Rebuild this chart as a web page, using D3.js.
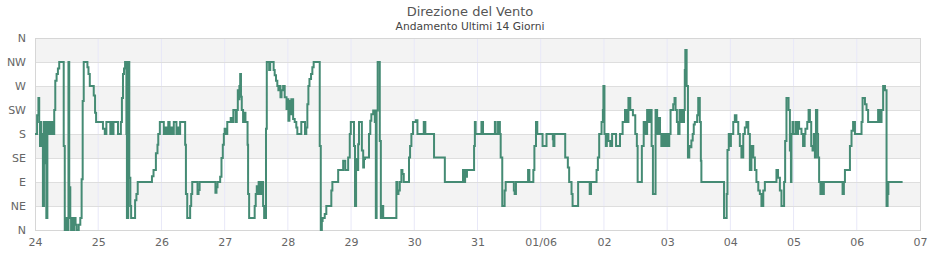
<!DOCTYPE html>
<html>
<head>
<meta charset="utf-8">
<script src="https://cdn.jsdelivr.net/npm/d3@7"></script>
<style>
  body { margin: 0; background: #fff; font-family: "DejaVu Sans", Verdana, sans-serif; }
  .axis text { fill: #666; font-size: 11px; font-family: "DejaVu Sans", sans-serif; }
</style>
</head>
<body>
<svg id="chart"></svg>
<script>
const title = 'Direzione del Vento';
const subtitle = 'Andamento Ultimi 14 Giorni';
const dirLabels = ['N', 'NE', 'E', 'SE', 'S', 'SW', 'W', 'NW', 'N'];
const dirTicks = [0, 45, 90, 135, 180, 225, 270, 315, 360];
const firstDay = Date.UTC(2024, 4, 24);
const lastDay = Date.UTC(2024, 5, 7);

// one array per day: [hour of day, direction in degrees]
const d24 = [[0,180],[0.8,215],[1.3,247.5],[1.6,202.5],[1.9,157.5],[2.2,202.5],[2.4,180],[2.7,157.5],[3.0,45],[3.4,202.5],[3.8,125],[4.0,202.5],[4.3,22.5],[4.7,202.5],[5.1,180],[5.6,202.5],[5.9,180],[6.3,202.5],[6.7,180],[7.3,225],[7.7,280],[8.2,292.5],[8.7,303],[9.2,315],[10.9,157.5],[11.3,0],[11.6,22.5],[12.0,0],[12.7,315],[13.0,80],[13.4,22.5],[13.7,0],[14.1,22.5],[14.4,0],[14.9,22.5],[15.4,10],[15.8,0],[16.6,10],[17.2,22.5],[17.7,95],[18.1,242],[18.5,315],[19.9,305],[20.3,292.5],[20.8,270],[22.3,252],[22.8,220],[23.2,202.5]];
const d25 = [[0,202.5],[1.8,190],[2.5,180],[3.1,202.5],[4.6,180],[5.0,202.5],[5.4,180],[5.8,202.5],[7.5,180],[8.6,202.5],[9.0,247.5],[9.4,292.5],[9.8,303],[10.2,315],[10.7,180],[10.9,22.5],[11.4,315],[11.8,98],[12.2,45],[12.5,22.5],[14.0,56],[14.5,67.5],[15.0,90],[20.4,101],[21.0,112.5],[21.9,144],[22.5,160],[22.8,180],[23.4,202.5]];
const d26 = [[0,202.5],[0.9,180],[1.5,192],[2.1,180],[2.6,202.5],[3.1,180],[3.6,192],[4.1,180],[4.7,202.5],[5.7,180],[6.3,192],[6.8,180],[7.1,202.5],[9.0,160],[9.3,67.5],[9.8,22.5],[10.9,45],[11.3,67.5],[11.7,90],[13.7,67.5],[14.1,75],[14.5,90],[20.5,70],[20.9,80],[21.3,90],[22.3,100],[22.8,135],[23.3,160],[23.7,180]];
const d27 = [[0,190],[0.6,180],[1.0,202.5],[2.3,210],[2.8,202.5],[3.3,225],[4.2,202.5],[4.6,225],[5.0,262],[5.3,245],[5.6,270],[5.9,292.5],[6.2,250],[6.5,225],[7.0,202.5],[7.4,220],[7.9,202.5],[8.7,160],[8.9,67.5],[9.3,22.5],[11.4,45],[11.8,67.5],[12.2,82],[12.5,67.5],[12.9,90],[13.4,67.5],[14.0,90],[14.6,45],[15.0,22.5],[15.7,190],[16.0,315],[16.9,300],[17.3,315],[18.6,300],[19.0,290],[19.5,280],[20.0,270],[20.4,262],[20.8,270],[21.2,249],[21.6,262],[22.2,270],[22.8,249],[23.5,227]];
const d28 = [[0,245],[0.2,205],[0.6,242],[1.0,217],[1.3,245],[2.0,208],[2.6,202.5],[3.2,192],[3.6,180],[5.1,202.5],[6.5,180],[7.0,192],[7.4,236],[7.8,270],[8.2,283],[8.8,292.5],[9.3,305],[9.8,315],[12.1,157.5],[12.5,0],[12.9,17],[13.2,22.5],[14.0,30],[14.6,45],[16.5,74],[16.9,90],[19.1,112.5],[21.0,130],[21.8,112.5],[22.9,136],[23.5,180],[23.9,202.5]];
const d29 = [[0,202.5],[1.1,157.5],[1.5,45],[1.9,133],[2.3,112.5],[2.7,161],[3.0,202.5],[4.1,149],[4.6,117],[4.9,133],[5.3,136],[6.8,180],[7.3,205],[7.7,217],[8.4,224],[9.0,202.5],[9.4,22.5],[9.7,224],[10.1,315],[10.9,167],[11.3,22.5],[11.6,45],[12.2,22.5],[17.2,90],[17.6,67.5],[18.0,74],[18.5,90],[19.1,112.5],[19.5,105],[20.0,90],[22.0,136],[22.4,157.5],[22.9,180],[23.5,202.5]];
const d30 = [[0,202.5],[0.6,206],[1.2,180],[3.6,202.5],[4.2,180],[7.5,136],[11.6,90],[18.5,112.5],[18.9,90],[19.3,112.5],[19.7,100],[20.0,112.5],[22.7,157.5],[23.0,202.5],[23.3,180]];
const d31 = [[0,180],[1.5,202.5],[2.1,180],[6.6,202.5],[6.9,180],[7.8,202.5],[8.5,180],[8.8,136],[9.4,45],[10.3,74],[10.7,90],[13.8,74],[14.1,67.5],[14.6,90],[19.2,112.5],[19.7,90],[21.2,112.5],[21.6,157.5],[22.2,202.5],[22.7,180]];
const d01 = [[0,180],[0.7,157.5],[2.2,180],[4.6,170],[4.8,157.5],[5.2,180],[9.3,136],[10.3,117],[10.8,90],[11.7,67.5],[12.1,45],[14.2,90],[18.6,67.5],[19.1,90],[21.2,112.5],[21.7,136],[22.2,180],[23.1,202.5],[23.6,225],[23.8,270]];
const d02 = [[0.2,180],[0.7,157.5],[1.1,180],[1.7,167],[2.4,157.5],[3.1,180],[4.6,157.5],[6.1,180],[7.1,202.5],[8.0,225],[8.7,202.5],[9.3,247.5],[10.0,225],[11.0,215],[11.9,180],[12.5,157.5],[12.8,90],[14.4,157.5],[15.1,202.5],[15.7,180],[16.4,225],[17.0,202.5],[17.7,225],[18.1,157.5],[18.6,67.5],[19.6,225],[20.2,180],[20.9,210],[21.3,180],[21.8,157.5],[22.5,180],[23.1,157.5],[23.7,180]];
const d03 = [[0,180],[0.4,157.5],[0.8,180],[1.3,225],[2.3,236],[2.8,247.5],[3.2,225],[3.7,202.5],[4.2,180],[4.7,225],[5.1,202.5],[5.6,225],[6.0,202.5],[6.4,225],[6.7,300],[6.9,337.5],[7.4,270],[7.9,136],[8.4,157.5],[8.9,155],[9.2,168],[9.7,180],[10.1,198],[10.5,202.5],[11.4,215],[11.8,247.5],[12.4,202.5],[12.8,130],[13.0,90],[21.6,22.5],[22.6,67.5],[22.9,150],[23.4,180],[23.8,157.5]];
const d04 = [[0.2,180],[1.1,202.5],[1.7,215],[2.3,202.5],[3.0,180],[3.6,157.5],[4.2,136],[4.9,180],[5.5,192],[6.1,202.5],[6.8,180],[7.4,112.5],[8.0,157.5],[8.7,136],[9.3,112.5],[9.9,90],[10.6,74],[11.2,67.5],[11.8,45],[12.5,74],[13.1,90],[17.5,112.5],[18.1,98],[18.8,74],[19.4,45],[20.0,45],[20.4,90],[20.8,167],[21.3,247.5],[22.1,225],[22.6,149],[23.0,90],[23.2,180],[23.6,202.5]];
const d05 = [[0,180],[0.9,202.5],[1.4,180],[1.7,202.5],[2.1,190],[3.0,180],[3.6,157.5],[4.2,180],[4.5,190],[5.2,202.5],[5.7,225],[6.2,202.5],[6.7,157.5],[7.2,149],[7.7,180],[8.1,136],[8.5,225],[9.0,180],[9.3,136],[9.7,90],[10.2,67.5],[10.6,90],[11.0,67.5],[11.5,90],[18.6,67.5],[19.1,90],[19.5,112.5],[21.4,157.5],[22.0,186],[22.6,202.5],[23.3,180]];
const d06 = [[0,180],[1.8,202.5],[2.2,247.5],[3.1,236],[3.7,225],[4.3,202.5],[8.1,225],[8.8,202.5],[9.4,225],[10.0,270],[10.7,262],[11.3,45],[11.7,67.5],[12.0,90],[17.4,90]];

const days = [d24, d25, d26, d27, d28, d29, d30, d31, d01, d02, d03, d04, d05, d06];

const HOUR = 3600e3;
const points = days.flatMap((arr, i) =>
  arr.map(([h, deg]) => ({ t: new Date(firstDay + (i * 24 + h) * HOUR), deg }))
);

const W = 940, H = 260;
const m = { top: 38, right: 20, bottom: 30, left: 35 };
const iW = W - m.left - m.right;
const iH = H - m.top - m.bottom;

const svg = d3.select('#chart').attr('width', W).attr('height', H);

svg.append('text')
  .attr('x', W / 2).attr('y', 16)
  .attr('text-anchor', 'middle')
  .attr('fill', '#555')
  .style('font-size', '13px')
  .text(title);

svg.append('text')
  .attr('x', W / 2).attr('y', 30)
  .attr('text-anchor', 'middle')
  .attr('fill', '#444')
  .style('font-size', '10.7px')
  .text(subtitle);

const g = svg.append('g').attr('transform', `translate(${m.left},${m.top})`);

const x = d3.scaleUtc().domain([new Date(firstDay), new Date(lastDay)]).range([0, iW]);
const y = d3.scaleLinear().domain([0, 360]).range([iH, 0]);

// alternating bands
g.selectAll('.band')
  .data(dirTicks.slice(0, -1).filter((_, i) => i % 2 === 1))
  .join('rect')
    .attr('x', 0)
    .attr('width', iW)
    .attr('y', d => y(d + 45))
    .attr('height', d => y(d) - y(d + 45))
    .attr('fill', '#f3f3f3');

// vertical day lines
g.selectAll('.vline')
  .data(x.ticks(d3.utcDay.every(1)).slice(1, -1))
  .join('line')
    .attr('x1', d => x(d)).attr('x2', d => x(d))
    .attr('y1', 0).attr('y2', iH)
    .attr('stroke', '#e8e8f8');

// horizontal grid
g.selectAll('.hline')
  .data(dirTicks)
  .join('line')
    .attr('x1', 0).attr('x2', iW)
    .attr('y1', d => y(d) + 0.5).attr('y2', d => y(d) + 0.5)
    .attr('stroke', '#dedede');

g.append('rect')
  .attr('x', 0.5).attr('y', 0.5)
  .attr('width', iW).attr('height', iH)
  .attr('fill', 'none')
  .attr('stroke', '#d6d6d6');

const fmtDay = d3.utcFormat('%d');
const fmtMonth = d3.utcFormat('%d/%m');

g.append('g')
  .attr('class', 'axis')
  .attr('transform', `translate(0,${iH})`)
  .call(
    d3.axisBottom(x)
      .ticks(d3.utcDay.every(1))
      .tickFormat(d => d.getUTCDate() === 1 ? fmtMonth(d) : fmtDay(d))
      .tickSize(0)
      .tickPadding(8)
  )
  .call(ax => ax.select('.domain').remove());

g.append('g')
  .attr('class', 'axis')
  .call(
    d3.axisLeft(y)
      .tickValues(dirTicks)
      .tickFormat((d, i) => dirLabels[i])
      .tickSize(0)
      .tickPadding(9)
  )
  .call(ax => ax.select('.domain').remove());

const line = d3.line()
  .x(d => x(d.t))
  .y(d => y(d.deg))
  .curve(d3.curveStepAfter);

g.append('path')
  .datum(points)
  .attr('fill', 'none')
  .attr('stroke', '#458b74')
  .attr('stroke-width', 2)
  .attr('d', line);
</script>
</body>
</html>
